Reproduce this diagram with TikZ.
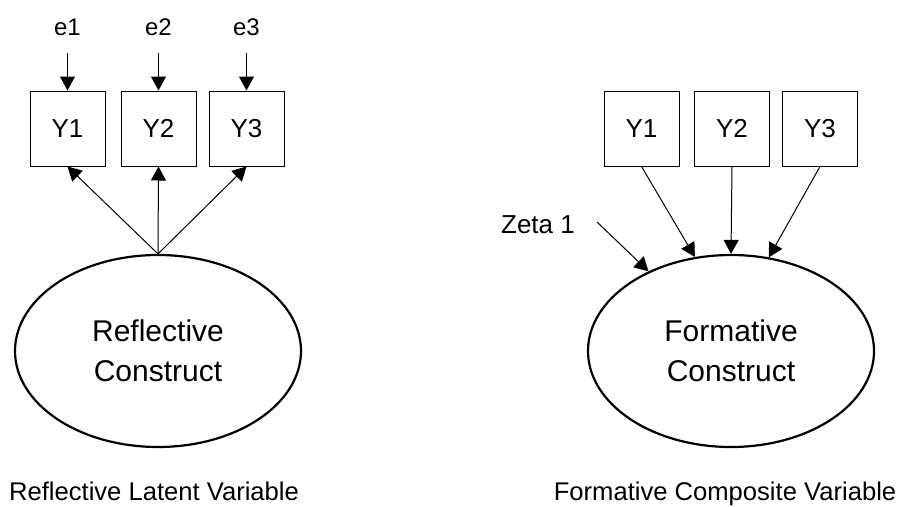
\documentclass[tikz,border=0pt]{standalone}
\usepackage{fontspec}
\setmainfont{Liberation Sans}
\usetikzlibrary{arrows.meta,shapes.geometric}

\begin{document}
\begin{tikzpicture}[x=1pt, y=-1pt,
		box/.style={draw, line width=1pt, minimum size=75pt, inner sep=0pt, font=\fontsize{26}{30}\selectfont},
		construct/.style={draw, ellipse, line width=2.2pt, minimum width=286pt, minimum height=192pt, inner sep=0pt, align=center, font=\fontsize{30}{39.5}\selectfont},
		err/.style={anchor=base, inner sep=0pt, font=\fontsize{24}{28}\selectfont},
		caption/.style={anchor=base, inner sep=0pt, font=\fontsize{25.6}{30}\selectfont},
		arr/.style={line width=1pt, -{Triangle[length=14pt, width=15pt]}}]
				\useasboundingbox (0,0) rectangle (904,506);
				
				\node[box] (ly1) at (67.5,128.5) {Y1};
				\node[box] (ly2) at (158.5,128.5) {Y2};
				\node[box] (ly3) at (246.5,128.5) {Y3};
				
				\node[err] (e1) at (67.5,35) {e1};
				\node[err] (e2) at (158.5,35) {e2};
				\node[err] (e3) at (246.5,35) {e3};
				\draw[arr, shorten <=17.5pt] (e1.south) -- (ly1.north);
				\draw[arr, shorten <=17.5pt] (e2.south) -- (ly2.north);
				\draw[arr, shorten <=17.5pt] (e3.south) -- (ly3.north);
				
				\node[construct] (lc) at (158,351) {Reflective\\Construct};
				\draw[arr] (lc.north) -- (ly1.south);
				\draw[arr] (lc.north) -- (ly2.south);
				\draw[arr] (lc.north) -- (ly3.south);
				
				\node[box] (ry1) at (641.5,128.5) {Y1};
				\node[box] (ry2) at (732,128.5) {Y2};
				\node[box] (ry3) at (820,128.5) {Y3};
				
				\node[construct] (rc) at (731,351) {Formative\\Construct};
				\draw[arr] (ry1.south) -- (rc.111);
				\draw[arr] (ry2.south) -- (rc.north);
				\draw[arr] (ry3.south) -- (rc.68);
				
				\node[anchor=base, inner sep=0pt, font=\fontsize{26}{30}\selectfont] (zeta) at (538,233) {Zeta 1};
				\coordinate (zstart) at (597,222);
				\draw[arr] (zstart) -- (rc.136);
				
				\node[caption] (rlab) at (154,500) {Reflective Latent Variable};
				\node[caption] (flab) at (725,500) {Formative Composite Variable};
\end{tikzpicture}
\end{document}
